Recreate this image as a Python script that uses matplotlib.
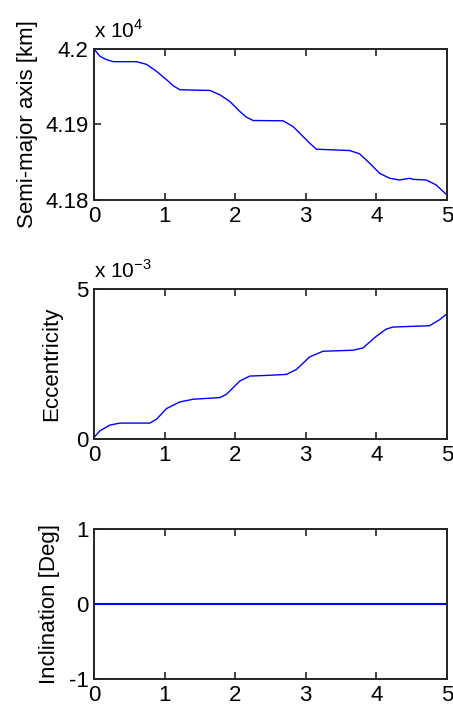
import numpy as np
import matplotlib.pyplot as plt

plt.rcParams['font.family'] = ['Liberation Sans Narrow', 'Liberation Sans', 'DejaVu Sans']
plt.rcParams['mathtext.fontset'] = 'custom'
plt.rcParams['mathtext.rm'] = 'Liberation Sans'
plt.rcParams['axes.unicode_minus'] = False

# time axis and orbital elements
t_a = [0, 0.085, 0.179, 0.274, 0.604, 0.745, 0.887, 1.028, 1.123, 1.217, 1.642,
       1.783, 1.925, 2.066, 2.160, 2.255, 2.679, 2.821, 2.962, 3.057, 3.151,
       3.623, 3.764, 3.906, 4.047, 4.189, 4.330, 4.472, 4.519, 4.708, 4.849, 5.0]
sma = [4.2, 4.19903, 4.19858, 4.19832, 4.19832, 4.19796, 4.19704, 4.19593,
       4.19513, 4.19460, 4.19451, 4.19394, 4.19305, 4.19173, 4.19097, 4.19053,
       4.19049, 4.18973, 4.18841, 4.18752, 4.18673, 4.18655, 4.18611, 4.18487,
       4.18354, 4.18288, 4.18265, 4.18288, 4.18274, 4.18265, 4.18199, 4.18067]  # x 1e4 km

t_e = [0, 0.085, 0.226, 0.368, 0.792, 0.887, 1.028, 1.217, 1.406, 1.783, 1.877,
       2.066, 2.208, 2.443, 2.726, 2.868, 3.057, 3.245, 3.670, 3.811, 4.0,
       4.142, 4.236, 4.755, 4.896, 5.0]
ecc = [0.05, 0.276, 0.464, 0.530, 0.530, 0.662, 1.015, 1.236, 1.325, 1.380,
       1.490, 1.932, 2.097, 2.119, 2.152, 2.318, 2.737, 2.925, 2.958, 3.035,
       3.422, 3.664, 3.731, 3.775, 3.974, 4.172]  # x 1e-3

t_i = [0, 5]
inc = [0, 0]

fig = plt.figure(figsize=(4.53, 7.10), dpi=100)
ax1 = fig.add_axes([0.2075, 0.7183, 0.779, 0.2127])
ax2 = fig.add_axes([0.2075, 0.3817, 0.779, 0.2113])
ax3 = fig.add_axes([0.2075, 0.0437, 0.779, 0.2113])

ax1.plot(t_a, sma, color='#0000ff', lw=1.0)
ax1.set_ylim(4.18, 4.2)
ax1.set_yticks([4.18, 4.19, 4.2])
ax1.set_yticklabels(['4.18', '4.19', '4.2'])
ax1.set_ylabel('Semi-major axis [km]')
ax1.yaxis.set_label_coords(-0.16, 0.5)
ax1.text(0, 1.045, r'x 10$^{4}$', transform=ax1.transAxes, ha='left', va='bottom', fontsize=15)

ax2.plot(t_e, ecc, color='#0000ff', lw=1.0)
ax2.set_ylim(0, 5)
ax2.set_yticks([0, 5])
ax2.set_ylabel('Eccentricity')
ax2.yaxis.set_label_coords(-0.091, 0.5)
ax2.text(0, 1.045, r'x 10$^{-3}$', transform=ax2.transAxes, ha='left', va='bottom', fontsize=15)

ax3.plot(t_i, inc, color='#0000ff', lw=1.5)
ax3.set_ylim(-1, 1)
ax3.set_yticks([-1, 0, 1])
ax3.set_ylabel('Inclination [Deg]')
ax3.yaxis.set_label_coords(-0.096, 0.5)

for ax in (ax1, ax2, ax3):
    ax.set_xlim(0, 5)
    ax.set_xticks([0, 1, 2, 3, 4, 5])
    ax.tick_params(direction='in', length=5, width=1.2, top=True, right=True,
                   labelsize=16, pad=4, color='#262626')
    ax.yaxis.label.set_size(16)
    for s in ax.spines.values():
        s.set_linewidth(1.4)
        s.set_color('#262626')

fig.savefig('out.png', dpi=100)
